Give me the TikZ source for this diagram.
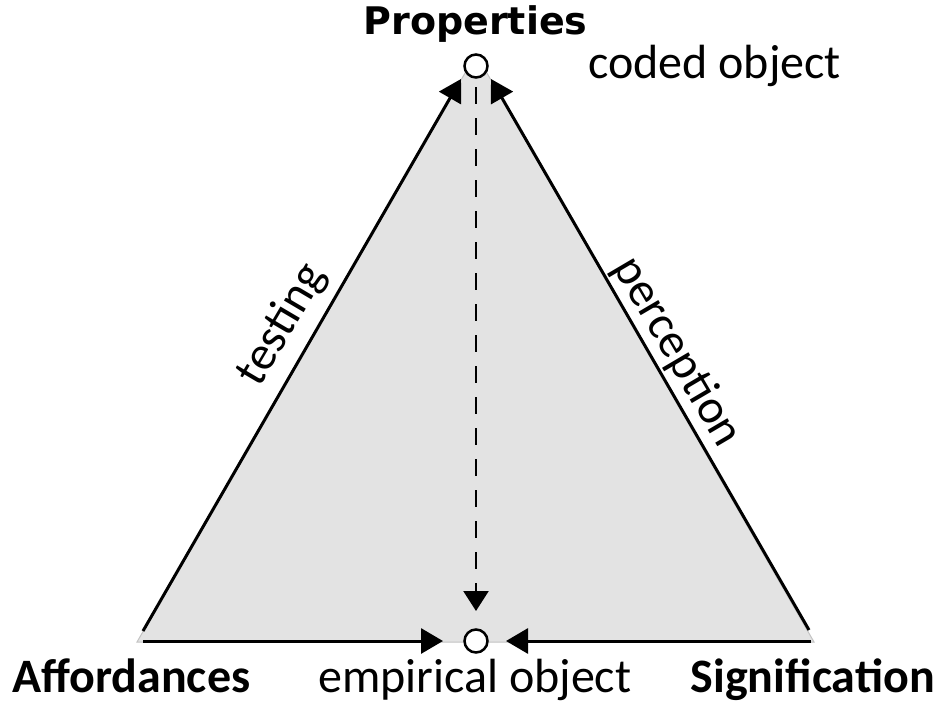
\documentclass[tikz,border=0pt]{standalone}
\usepackage{fontspec}
\setmainfont{Carlito}
\newfontfamily\propfont{DejaVu Sans}
\usetikzlibrary{arrows.meta}
\definecolor{trifill}{RGB}{227,227,227}
\definecolor{triedge}{RGB}{195,195,195}
\tikzset{
  conn/.style={line width=3pt, -{Triangle[length=22pt,width=25pt]}},
  dconn/.style={line width=2.4pt, dash pattern=on 17pt off 14pt, dash phase=22.5pt, -{Triangle[length=20pt,width=25pt]}},
  objcircle/.style={circle, draw=black, line width=2.5pt, fill=white, minimum size=23pt, inner sep=0pt},
  lbl/.style={font=\fontsize{48}{56}\selectfont, inner sep=0pt},
  blbl/.style={font=\fontsize{48}{56}\selectfont\bfseries, inner sep=0pt},
}
\begin{document}
\begin{tikzpicture}[x=1pt,y=-1pt]
\useasboundingbox (0,0) rectangle (947,703);
% triangle
\coordinate (apex) at (476,54);
\coordinate (bl) at (137,642);
\coordinate (br) at (814,642);
\fill[trifill, draw=triedge, line width=1pt] (apex) -- (bl) -- (br) -- cycle;
% circles
\node[objcircle] (top) at (476,66) {};
\node[objcircle] (bot) at (476,641) {};
% arrow endpoints
\coordinate (lstart) at (143,631);
\coordinate (ltip) at (461,79);
\coordinate (rstart) at (809,630);
\coordinate (rtip) at (491,79);
\coordinate (bls) at (143,641);
\coordinate (bltip) at (443,641);
\coordinate (brs) at (811,641);
\coordinate (brtip) at (506,641);
\coordinate (dtip) at (476,611);
\draw[conn] (lstart) -- (ltip);
\draw[conn] (rstart) -- (rtip);
\draw[conn] (bls) -- (bltip);
\draw[conn] (brs) -- (brtip);
\draw[dconn] (top.south) -- (dtip);
% labels
\node[inner sep=0pt, anchor=base, font=\fontsize{38}{44}\selectfont\propfont\bfseries] (props) at (475.5,35) {Properties};
\node[lbl, anchor=base west] (coded) at (588,79) {coded object};
\node[blbl, anchor=base west] (aff) at (12,692) {Affordances};
\node[lbl, anchor=base west] (emp) at (318,692) {empirical object};
\node[blbl, anchor=base east] (sig) at (935,692) {Signification};
\node[lbl, rotate=59.5] (testing) at (282,325) {testing};
\node[lbl, rotate=-59.5] (perc) at (677,352) {perception};
\end{tikzpicture}
\end{document}
